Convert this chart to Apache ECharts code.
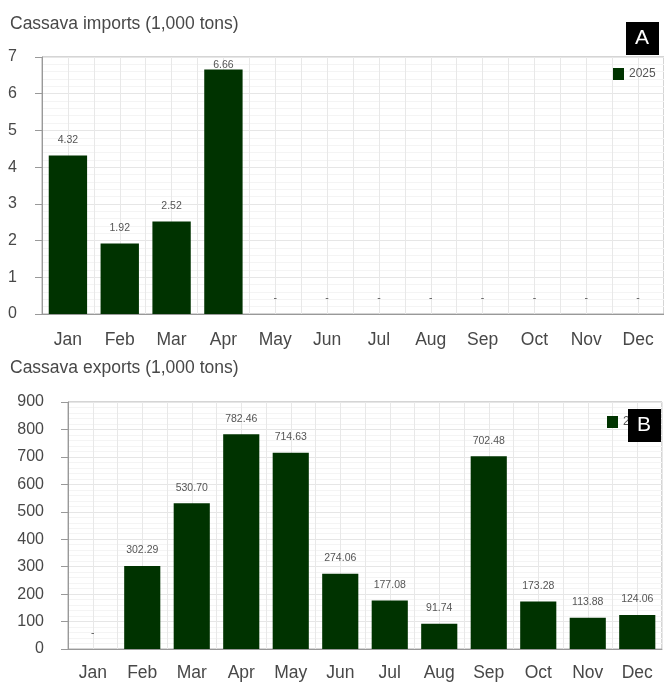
<!DOCTYPE html>
<html>
<head>
<meta charset="utf-8">
<script src="https://cdn.jsdelivr.net/npm/echarts@6/dist/echarts.min.js"></script>
<style>
  html, body { margin: 0; padding: 0; background: #fff; }
  #chart { width: 664px; height: 682px; }
</style>
</head>
<body>
<div id="chart"></div>
<script>
const months = ['Jan', 'Feb', 'Mar', 'Apr', 'May', 'Jun', 'Jul', 'Aug', 'Sep', 'Oct', 'Nov', 'Dec'];
// null = no data (shown as "-")
const imports2025 = [4.32, 1.92, 2.52, 6.66, null, null, null, null, null, null, null, null];
const exports2025 = [null, 302.29, 530.70, 782.46, 714.63, 274.06, 177.08, 91.74, 702.48, 173.28, 113.88, 124.06];
const seriesName = '2025';

const font = "'Liberation Sans', Arial, sans-serif";
const barColor = '#003300';
const textColor = '#484848';

const myChart = echarts.init(document.getElementById('chart'));

// turn null into a zero bar so the "-" label still shows
function toBars(arr, max) {
    return arr.map(v => {
        if (v == null) return { value: 0, label: { formatter: '-' } };
        // keep the tallest label inside the plot
        if (v > max * 0.93) return { value: v, label: { distance: -1 } };
        return v;
    });
}

function catAxis(gridIndex) {
    return {
        type: 'category',
        gridIndex: gridIndex,
        data: months,
        axisLine: { lineStyle: { color: '#999' } },
        axisTick: { alignWithLabel: true, length: 6, lineStyle: { color: '#999' } },
        axisLabel: { color: textColor, fontSize: 17.5, fontFamily: font, margin: gridIndex === 0 ? 17 : 15 },
        splitLine: { show: false }
    };
}

// invisible axis used only to draw the vertical grid lines (category edges and centers)
function gridXAxis(gridIndex) {
    return {
        type: 'value',
        gridIndex: gridIndex,
        min: 0, max: 12, interval: 0.5,
        axisLine: { show: false },
        axisTick: { show: false },
        axisLabel: { show: false },
        splitLine: { show: true, lineStyle: { color: '#e8e8e8' } }
    };
}

function valAxis(gridIndex, max, interval) {
    return {
        type: 'value',
        gridIndex: gridIndex,
        min: 0, max: max, interval: interval,
        axisLine: { show: true, lineStyle: { color: '#999' } },
        axisTick: { show: true, length: 7, lineStyle: { color: '#999' } },
        axisLabel: { color: textColor, fontSize: 16, fontFamily: font, margin: gridIndex === 0 ? 25 : 24 },
        splitLine: { lineStyle: { color: '#e6e6e6' } },
        minorTick: { show: false, splitNumber: 5 },
        minorSplitLine: { show: true, lineStyle: { color: '#f4f4f4' } }
    };
}

const labelStyle = {
    show: true,
    position: 'top',
    distance: 10,
    color: '#555',
    fontSize: 10.5,
    fontFamily: font,
    formatter: p => p.value.toFixed(2)
};

const legendStyle = {
    data: [seriesName], padding: 0, icon: 'rect', itemWidth: 11, itemHeight: 12, itemGap: 6,
    textStyle: { color: '#555', fontSize: 12, fontFamily: font }
};

var option = {
    animation: false,
    textStyle: { fontFamily: font },
    title: [
        { text: 'Cassava imports (1,000 tons)', left: 10, top: 15, padding: 0,
          textStyle: { color: textColor, fontSize: 17.5, fontWeight: 'normal', fontFamily: font } },
        { text: 'Cassava exports (1,000 tons)', left: 10, top: 359, padding: 0,
          textStyle: { color: textColor, fontSize: 17.5, fontWeight: 'normal', fontFamily: font } }
    ],
    legend: [
        Object.assign({ left: 613, top: 68 }, legendStyle),
        Object.assign({ left: 607, top: 416 }, legendStyle)
    ],
    grid: [
        { left: 42, top: 57, width: 624, height: 257, show: true, borderColor: '#aaa', borderWidth: 1 },
        { left: 68, top: 402, width: 594, height: 247, show: true, borderColor: '#aaa', borderWidth: 1 }
    ],
    xAxis: [catAxis(0), catAxis(1), gridXAxis(0), gridXAxis(1)],
    yAxis: [valAxis(0, 7, 1), valAxis(1, 900, 100)],
    series: [
        {
            name: seriesName,
            type: 'bar',
            xAxisIndex: 0,
            yAxisIndex: 0,
            barWidth: '74%',
            itemStyle: { color: barColor },
            label: labelStyle,
            data: toBars(imports2025, 7)
        },
        {
            name: seriesName,
            type: 'bar',
            xAxisIndex: 1,
            yAxisIndex: 1,
            barWidth: '73%',
            itemStyle: { color: barColor },
            label: labelStyle,
            data: toBars(exports2025, 900)
        }
    ],
    graphic: [
        { type: 'rect', left: 626, top: 22, z: 100, shape: { width: 33, height: 33 }, style: { fill: '#000' } },
        { type: 'text', left: 635, top: 28, z: 101, style: { text: 'A', fill: '#fff', font: '21px ' + font } },
        { type: 'rect', left: 628, top: 409, z: 100, shape: { width: 33, height: 33 }, style: { fill: '#000' } },
        { type: 'text', left: 637, top: 415, z: 101, style: { text: 'B', fill: '#fff', font: '21px ' + font } }
    ]
};

myChart.setOption(option);

window.addEventListener('resize', () => {
    myChart.resize();
});
</script>
</body>
</html>
